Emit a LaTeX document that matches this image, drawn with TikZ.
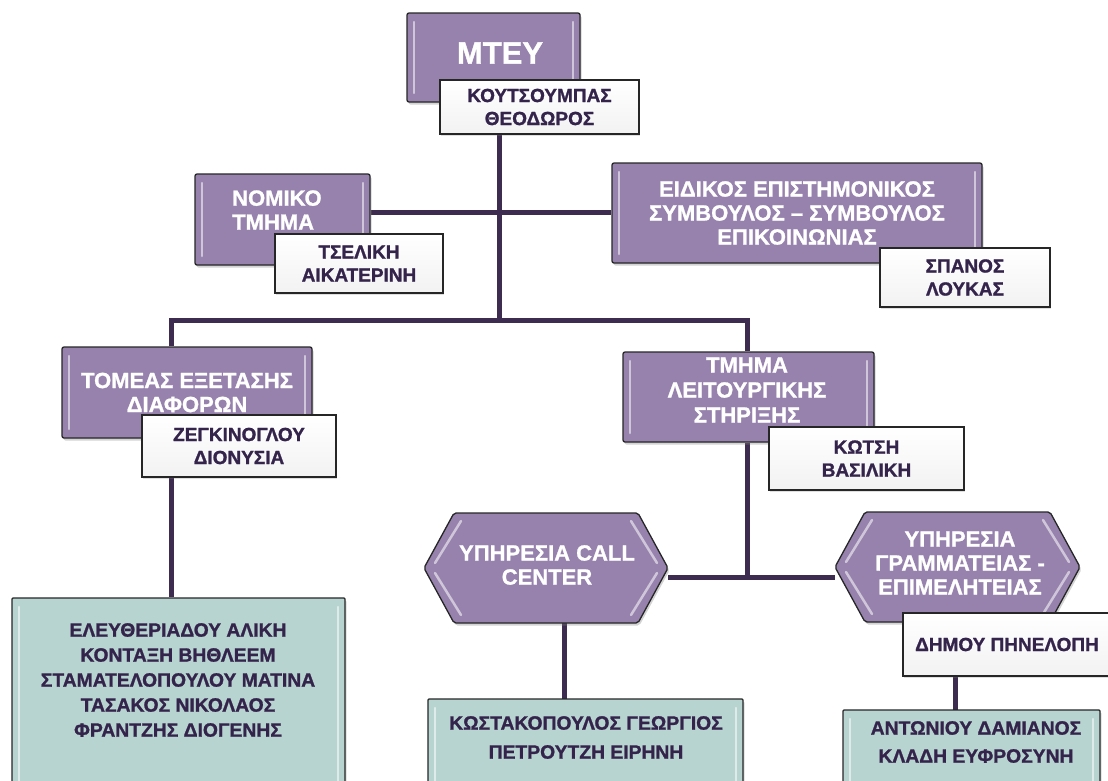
\documentclass[tikz,border=0pt]{standalone}
\usepackage{fontspec}
\setmainfont{Liberation Sans}[BoldFeatures={FakeBold=1.2}]
\usetikzlibrary{shadows,backgrounds}
\definecolor{pfill}{RGB}{150,130,172}
\definecolor{gfill}{RGB}{184,212,208}
\definecolor{linecol}{RGB}{62,44,80}
\definecolor{namecol}{RGB}{52,36,76}
\begin{document}
\begin{tikzpicture}[x=1pt,y=-1pt,
  bevel/.style={path picture={\draw[white,opacity=.55,line width=2.5pt,line cap=round]
      ([xshift=7pt,yshift=-9pt]path picture bounding box.north west) -- ([xshift=7pt,yshift=9pt]path picture bounding box.south west)
      ([xshift=-7pt,yshift=-9pt]path picture bounding box.north east) -- ([xshift=-7pt,yshift=9pt]path picture bounding box.south east);}},
  pbox/.style={draw=black!85,line width=1.3pt,fill=pfill,rounded corners=2pt,bevel,
      drop shadow={shadow xshift=1.5pt,shadow yshift=-2.5pt,opacity=.35},inner sep=0pt},
  gbox/.style={draw=black!85,line width=1.3pt,fill=gfill,rounded corners=1pt,bevel,
      drop shadow={shadow xshift=1.5pt,shadow yshift=-2.5pt,opacity=.3},inner sep=0pt},
  nbox/.style={draw=black!85,line width=1.3pt,top color=white,bottom color=black!5,
      drop shadow={shadow xshift=1.2pt,shadow yshift=-2pt,opacity=.25},inner sep=0pt},
  hexbox/.style={draw=black!85,line width=1.3pt,fill=pfill,rounded corners=2pt,
      drop shadow={shadow xshift=1.5pt,shadow yshift=-2.5pt,opacity=.35}},
  hexbevel/.style={white,opacity=.55,line width=2.5pt,line cap=round},
  ptext/.style={text=white,font=\fontsize{22pt}{24pt}\selectfont\bfseries,align=center,inner sep=0pt},
  ntext/.style={text=namecol,font=\fontsize{19pt}{23pt}\selectfont\bfseries,align=center},
  gtext/.style={text=namecol,font=\fontsize{19.3pt}{25pt}\selectfont\bfseries,align=center,inner sep=0pt},
  conn/.style={draw=linecol,line width=5pt}
]
\useasboundingbox (0,0) rectangle (1108,780);

% top
\node[pbox,minimum width=173pt,minimum height=89pt] (mtey) at (493.5,57.5) {};
\node[ptext,font=\fontsize{31pt}{33pt}\selectfont\bfseries] (mteyt) at (500,53) {ΜΤΕΥ};
\node[nbox,ntext,minimum width=199pt,minimum height=54pt] (kout) at (539.5,107) {ΚΟΥΤΣΟΥΜΠΑΣ\\ΘΕΟΔΩΡΟΣ};

% legal
\node[pbox,minimum width=175pt,minimum height=91pt] (nomiko) at (282.5,219.5) {};
\node[ptext,align=left,anchor=west] (nomikot) at (232,210) {ΝΟΜΙΚΟ\\ΤΜΗΜΑ};
\node[nbox,ntext,minimum width=168pt,minimum height=59pt] (tsel) at (359,263.5) {ΤΣΕΛΙΚΗ\\ΑΙΚΑΤΕΡΙΝΗ};

% advisor
\node[pbox,ptext,minimum width=370pt,minimum height=100pt] (eid) at (797,213) {ΕΙΔΙΚΟΣ ΕΠΙΣΤΗΜΟΝΙΚΟΣ\\ΣΥΜΒΟΥΛΟΣ – ΣΥΜΒΟΥΛΟΣ\\ΕΠΙΚΟΙΝΩΝΙΑΣ};
\node[nbox,ntext,minimum width=170pt,minimum height=59pt] (span) at (965,277.5) {ΣΠΑΝΟΣ\\ΛΟΥΚΑΣ};

% sector
\node[pbox,ptext,minimum width=250pt,minimum height=91pt] (tomeas) at (187,392.5) {ΤΟΜΕΑΣ ΕΞΕΤΑΣΗΣ\\ΔΙΑΦΟΡΩΝ};
\node[nbox,ntext,minimum width=194pt,minimum height=62pt] (zegk) at (239,446) {ΖΕΓΚΙΝΟΓΛΟΥ\\ΔΙΟΝΥΣΙΑ};

% support dept
\node[pbox,minimum width=251pt,minimum height=90pt] (tmhma) at (748.5,397) {};
\node[ptext,font=\fontsize{22pt}{25pt}\selectfont\bfseries] (tmhmat) at (747,390) {ΤΜΗΜΑ\\ΛΕΙΤΟΥΡΓΙΚΗΣ\\ΣΤΗΡΙΞΗΣ};
\node[nbox,ntext,minimum width=195pt,minimum height=63pt] (kotsi) at (866.5,458.5) {ΚΩΤΣΗ\\ΒΑΣΙΛΙΚΗ};

% call center hexagon
\path[hexbox] (454,513) -- (638,513) -- (668,568) -- (638,623) -- (454,623) -- (424,568) -- cycle;
\draw[hexbevel] (461,521) -- (435,563) (435,573) -- (461,615) (631,521) -- (657,563) (657,573) -- (631,615);
\coordinate (callE) at (668,568);
\coordinate (callB) at (564,623);
\node[ptext] (callt) at (547,565) {ΥΠΗΡΕΣΙΑ CALL\\CENTER};

% secretariat hexagon
\path[hexbox] (865,512) -- (1050,512) -- (1080,567) -- (1050,622) -- (865,622) -- (835,567) -- cycle;
\draw[hexbevel] (872,520) -- (846,562) (846,572) -- (872,614) (1043,520) -- (1069,562) (1069,572) -- (1043,614);
\coordinate (gramW) at (835,567);
\node[ptext] (gramt) at (960,563) {ΥΠΗΡΕΣΙΑ\\ΓΡΑΜΜΑΤΕΙΑΣ -\\ΕΠΙΜΕΛΗΤΕΙΑΣ};
\node[nbox,ntext,minimum width=208pt,minimum height=63pt] (dhmou) at (1007,644.5) {ΔΗΜΟΥ ΠΗΝΕΛΟΠΗ};

% staff boxes
\node[gbox,minimum width=333pt,minimum height=192pt] (green1) at (178.5,694) {};
\node[gtext] (green1t) at (178,680) {ΕΛΕΥΘΕΡΙΑΔΟΥ ΑΛΙΚΗ\\ΚΟΝΤΑΞΗ ΒΗΘΛΕΕΜ\\ΣΤΑΜΑΤΕΛΟΠΟΥΛΟΥ ΜΑΤΙΝΑ\\ΤΑΣΑΚΟΣ ΝΙΚΟΛΑΟΣ\\ΦΡΑΝΤΖΗΣ ΔΙΟΓΕΝΗΣ};
\node[gbox,minimum width=315pt,minimum height=91pt] (green2) at (585.5,744.5) {};
\node[gtext,font=\fontsize{19.3pt}{29pt}\selectfont\bfseries] (green2t) at (586,737.5) {ΚΩΣΤΑΚΟΠΟΥΛΟΣ ΓΕΩΡΓΙΟΣ\\ΠΕΤΡΟΥΤΖΗ ΕΙΡΗΝΗ};
\node[gbox,minimum width=257pt,minimum height=80pt] (green3) at (971.5,750) {};
\node[gtext,font=\fontsize{19.3pt}{28pt}\selectfont\bfseries] (green3t) at (976,742) {ΑΝΤΩΝΙΟΥ ΔΑΜΙΑΝΟΣ\\ΚΛΑΔΗ ΕΥΦΡΟΣΥΝΗ};

% connectors
\coordinate (j1) at (499,320);
\coordinate (j2) at (499,212);
\coordinate (cL) at (171,320);
\coordinate (cR) at (747,320);
\coordinate (j3) at (747,577);
\coordinate (k2) at (564,699);
\coordinate (k3) at (955,710);
\begin{scope}[on background layer]
\draw[conn] (j1 |- kout.south) -- (j1);
\draw[conn] (j2 -| nomiko.east) -- (j2 -| eid.west);
\draw[conn] (cL |- tomeas.north) -- (cL) -- (cR) -- (cR |- tmhma.north);
\draw[conn] (cL |- tomeas.south) -- (cL |- green1.north);
\draw[conn] (cR |- tmhma.south) -- (j3);
\draw[conn] (j3 -| callE) -- (j3 -| gramW);
\draw[conn] (k2 |- callB) -- (k2);
\draw[conn] (k3 |- dhmou.south) -- (k3);
\end{scope}
\end{tikzpicture}
\end{document}
